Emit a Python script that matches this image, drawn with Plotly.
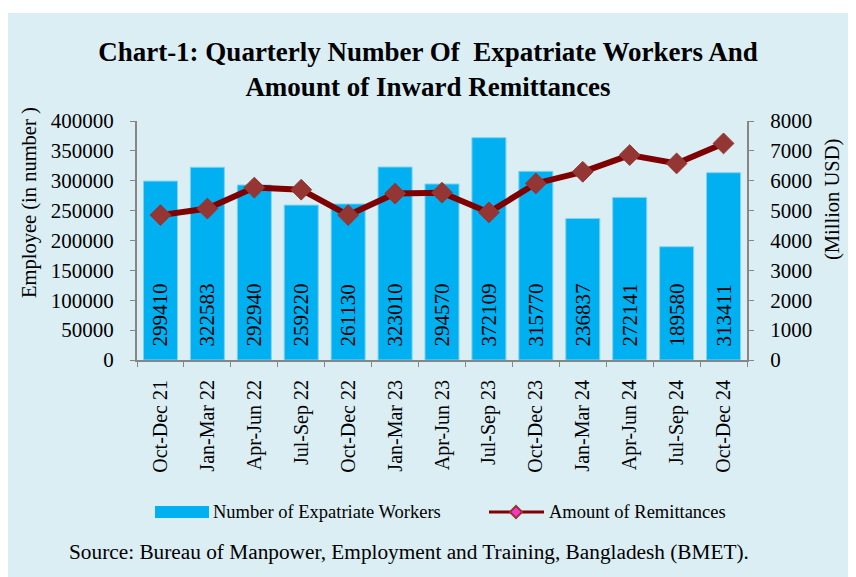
import plotly.graph_objects as go

quarters = ["Oct-Dec 21", "Jan-Mar 22", "Apr-Jun 22", "Jul-Sep 22", "Oct-Dec 22",
            "Jan-Mar 23", "Apr-Jun 23", "Jul-Sep 23", "Oct-Dec 23", "Jan-Mar 24",
            "Apr-Jun 24", "Jul-Sep 24", "Oct-Dec 24"]
workers = [299410, 322583, 292940, 259220, 261130, 323010, 294570,
           372109, 315770, 236837, 272141, 189580, 313411]
# remittances (million USD)
remittances = [4850, 5070, 5770, 5700, 4850, 5570, 5600,
               4940, 5910, 6300, 6860, 6580, 7250]

SERIF = "Liberation Serif, Times New Roman, serif"
BG = "#DBEEF4"
AXIS = "#868686"
BAR = "#00B0F0"
LINE = "#7F0000"

# the page body adds 8px, so screen coords = figure coords + 8
OFF = 8
# plot area on screen: x 137..747, y 121..360
L, R, T, B = 137 - OFF, 856 - 747 + OFF, 121 - OFF, 577 - 360 + OFF
PW, PH = 856 - L - R, 577 - T - B


def px(x):
    return (x - OFF - L) / PW


def py(y):
    return (577 - B - (y - OFF)) / PH


fig = go.Figure()

fig.add_trace(go.Bar(
    x=quarters, y=workers,
    name="Number of Expatriate Workers",
    marker=dict(color=BAR, line=dict(color="#7FD3F2", width=1)),
    text=["\u00a0\u00a0" + str(v) for v in workers],
    textposition="inside",
    insidetextanchor="start",
    textangle=-90,
    textfont=dict(family=SERIF, size=21, color="black"),
    showlegend=False,
))

fig.add_trace(go.Scatter(
    x=quarters, y=remittances,
    name="Amount of Remittances",
    yaxis="y2",
    mode="lines+markers",
    line=dict(color=LINE, width=6),
    marker=dict(symbol="diamond", size=16, color="#943634",
                line=dict(color="#943634", width=1)),
    showlegend=False,
))

# thin white strip above the light blue panel
fig.add_shape(type="rect", xref="paper", yref="paper",
              x0=px(0), x1=px(870), y0=py(13), y1=py(0),
              fillcolor="white", line_width=0, layer="below")

# legend
LEG_Y = 512
fig.add_shape(type="rect", xref="paper", yref="paper",
              x0=px(155), x1=px(209), y0=py(LEG_Y - 6), y1=py(LEG_Y + 6),
              fillcolor=BAR, line_width=0)
fig.add_annotation(text="Number of Expatriate Workers", xref="paper", yref="paper",
                   x=px(211), y=py(LEG_Y), xanchor="left", yanchor="middle",
                   showarrow=False, font=dict(family=SERIF, size=18.5, color="black"))
fig.add_shape(type="line", xref="paper", yref="paper",
              x0=px(489), x1=px(544), y0=py(LEG_Y), y1=py(LEG_Y),
              line=dict(color=LINE, width=3))
cx, cy, h = 516, LEG_Y, 6
fig.add_shape(type="path", xref="paper", yref="paper",
              path=(f"M {px(cx - h)} {py(cy)} L {px(cx)} {py(cy - h)} "
                    f"L {px(cx + h)} {py(cy)} L {px(cx)} {py(cy + h)} Z"),
              fillcolor="#FF33CC", line=dict(color="#943634", width=2))
fig.add_annotation(text="Amount of Remittances", xref="paper", yref="paper",
                   x=px(547), y=py(LEG_Y), xanchor="left", yanchor="middle",
                   showarrow=False, font=dict(family=SERIF, size=18.5, color="black"))

fig.add_annotation(
    text="Source: Bureau of Manpower, Employment and Training, Bangladesh (BMET).",
    xref="paper", yref="paper", x=px(409), y=py(552),
    xanchor="center", yanchor="middle",
    showarrow=False, font=dict(family=SERIF, size=21.3, color="black"),
)

# axis titles
fig.add_annotation(text="Employee (in number )", xref="paper", yref="paper",
                   x=px(29), y=py(203), xanchor="center", yanchor="middle",
                   textangle=-90, showarrow=False,
                   font=dict(family=SERIF, size=20.5, color="black"))
fig.add_annotation(text="(Million USD)", xref="paper", yref="paper",
                   x=px(832), y=py(200), xanchor="center", yanchor="middle",
                   textangle=-90, showarrow=False,
                   font=dict(family=SERIF, size=20.5, color="black"))

fig.update_layout(
    width=856, height=577,
    paper_bgcolor=BG, plot_bgcolor=BG,
    margin=dict(l=L, r=R, t=T, b=B),
    font=dict(family=SERIF, size=20, color="black"),
    title=dict(
        text="<b>Chart-1: Quarterly Number Of  Expatriate Workers And<br>Amount of Inward Remittances</b>",
        x=(428 - OFF) / 856, xanchor="center", xref="container",
        y=1 - 53 / 577, yanchor="top", yref="container",
        font=dict(family=SERIF, size=27, color="black"),
    ),
    bargap=0.275,
    showlegend=False,
    xaxis=dict(
        type="category", tickangle=-90, automargin=False,
        range=[-0.5, len(quarters) - 0.5],
        showline=True, linecolor=AXIS, linewidth=2,
        ticks="outside", tickson="boundaries", tickcolor=AXIS, ticklen=5,
        tickfont=dict(family=SERIF, size=20),
        ticklabelstandoff=10,
        showgrid=False,
    ),
    yaxis=dict(
        range=[0, 400000], dtick=50000, tickformat="d", automargin=False,
        showline=True, linecolor=AXIS, linewidth=2,
        ticks="outside", tickcolor=AXIS, ticklen=5,
        ticklabelstandoff=12,
        showgrid=False, zeroline=False,
        tickfont=dict(family=SERIF, size=21),
    ),
    yaxis2=dict(
        range=[0, 8000], dtick=1000, tickformat="d", automargin=False,
        overlaying="y", side="right",
        showline=True, linecolor=AXIS, linewidth=2,
        ticks="outside", tickcolor=AXIS, ticklen=5,
        ticklabelstandoff=12,
        showgrid=False, zeroline=False,
        tickfont=dict(family=SERIF, size=21),
    ),
)

fig.write_html("out.html")
